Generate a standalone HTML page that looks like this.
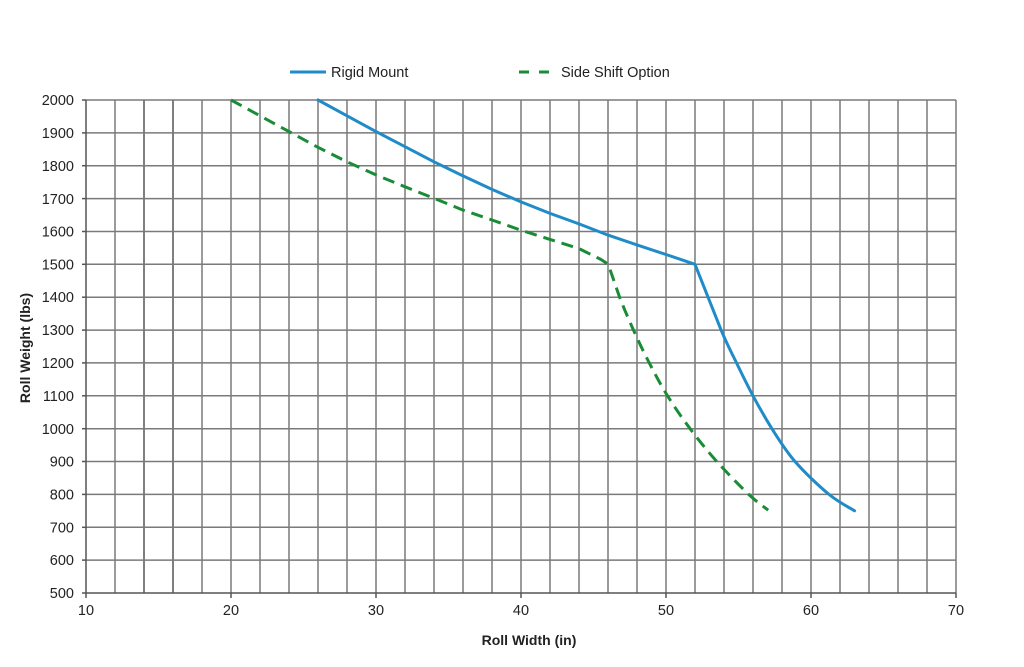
<!DOCTYPE html>
<html><head><meta charset="utf-8"><style>
html,body{margin:0;padding:0;background:#fff;}
svg{display:block;}
text{font-family:"Liberation Sans",Arial,sans-serif;fill:#222;}
</style></head><body>
<svg width="1024" height="667" viewBox="0 0 1024 667" xmlns="http://www.w3.org/2000/svg">
<rect width="1024" height="667" fill="#fff"/>
<g stroke="#7a7a7a" stroke-width="1.5">
<line x1="115" y1="100" x2="115" y2="593"/>
<line x1="144" y1="100" x2="144" y2="593" stroke="#555"/>
<line x1="173" y1="100" x2="173" y2="593" stroke="#555"/>
<line x1="202" y1="100" x2="202" y2="593"/>
<line x1="231" y1="100" x2="231" y2="593"/>
<line x1="260" y1="100" x2="260" y2="593"/>
<line x1="289" y1="100" x2="289" y2="593"/>
<line x1="318" y1="100" x2="318" y2="593"/>
<line x1="347" y1="100" x2="347" y2="593"/>
<line x1="376" y1="100" x2="376" y2="593"/>
<line x1="405" y1="100" x2="405" y2="593"/>
<line x1="434" y1="100" x2="434" y2="593"/>
<line x1="463" y1="100" x2="463" y2="593"/>
<line x1="492" y1="100" x2="492" y2="593"/>
<line x1="521" y1="100" x2="521" y2="593"/>
<line x1="550" y1="100" x2="550" y2="593"/>
<line x1="579" y1="100" x2="579" y2="593"/>
<line x1="608" y1="100" x2="608" y2="593"/>
<line x1="637" y1="100" x2="637" y2="593"/>
<line x1="666" y1="100" x2="666" y2="593"/>
<line x1="695" y1="100" x2="695" y2="593"/>
<line x1="724" y1="100" x2="724" y2="593"/>
<line x1="753" y1="100" x2="753" y2="593"/>
<line x1="782" y1="100" x2="782" y2="593"/>
<line x1="811" y1="100" x2="811" y2="593"/>
<line x1="840" y1="100" x2="840" y2="593"/>
<line x1="869" y1="100" x2="869" y2="593"/>
<line x1="898" y1="100" x2="898" y2="593"/>
<line x1="927" y1="100" x2="927" y2="593"/>
<line x1="956" y1="100" x2="956" y2="593"/>
<line x1="86" y1="100" x2="956" y2="100"/>
<line x1="86" y1="132.9" x2="956" y2="132.9"/>
<line x1="86" y1="165.7" x2="956" y2="165.7"/>
<line x1="86" y1="198.6" x2="956" y2="198.6"/>
<line x1="86" y1="231.5" x2="956" y2="231.5"/>
<line x1="86" y1="264.3" x2="956" y2="264.3"/>
<line x1="86" y1="297.2" x2="956" y2="297.2"/>
<line x1="86" y1="330.1" x2="956" y2="330.1"/>
<line x1="86" y1="362.9" x2="956" y2="362.9"/>
<line x1="86" y1="395.8" x2="956" y2="395.8"/>
<line x1="86" y1="428.7" x2="956" y2="428.7"/>
<line x1="86" y1="461.5" x2="956" y2="461.5"/>
<line x1="86" y1="494.4" x2="956" y2="494.4"/>
<line x1="86" y1="527.3" x2="956" y2="527.3"/>
<line x1="86" y1="560.1" x2="956" y2="560.1"/>
</g>
<g stroke="#555" stroke-width="1.5">
<line x1="86" y1="100" x2="86" y2="593"/>
<line x1="86" y1="593" x2="956" y2="593"/>
<line x1="82" y1="100" x2="86" y2="100"/>
<line x1="82" y1="132.9" x2="86" y2="132.9"/>
<line x1="82" y1="165.7" x2="86" y2="165.7"/>
<line x1="82" y1="198.6" x2="86" y2="198.6"/>
<line x1="82" y1="231.5" x2="86" y2="231.5"/>
<line x1="82" y1="264.3" x2="86" y2="264.3"/>
<line x1="82" y1="297.2" x2="86" y2="297.2"/>
<line x1="82" y1="330.1" x2="86" y2="330.1"/>
<line x1="82" y1="362.9" x2="86" y2="362.9"/>
<line x1="82" y1="395.8" x2="86" y2="395.8"/>
<line x1="82" y1="428.7" x2="86" y2="428.7"/>
<line x1="82" y1="461.5" x2="86" y2="461.5"/>
<line x1="82" y1="494.4" x2="86" y2="494.4"/>
<line x1="82" y1="527.3" x2="86" y2="527.3"/>
<line x1="82" y1="560.1" x2="86" y2="560.1"/>
<line x1="82" y1="593" x2="86" y2="593"/>
<line x1="86" y1="593" x2="86" y2="598"/>
<line x1="231" y1="593" x2="231" y2="598"/>
<line x1="376" y1="593" x2="376" y2="598"/>
<line x1="521" y1="593" x2="521" y2="598"/>
<line x1="666" y1="593" x2="666" y2="598"/>
<line x1="811" y1="593" x2="811" y2="598"/>
<line x1="956" y1="593" x2="956" y2="598"/>
</g>
<g font-size="14.5" text-anchor="end">
<text x="74" y="105">2000</text>
<text x="74" y="138">1900</text>
<text x="74" y="171">1800</text>
<text x="74" y="204">1700</text>
<text x="74" y="236.5">1600</text>
<text x="74" y="269.5">1500</text>
<text x="74" y="302">1400</text>
<text x="74" y="335">1300</text>
<text x="74" y="368">1200</text>
<text x="74" y="401">1100</text>
<text x="74" y="434">1000</text>
<text x="74" y="466.5">900</text>
<text x="74" y="499.5">800</text>
<text x="74" y="532.5">700</text>
<text x="74" y="565">600</text>
<text x="74" y="598">500</text>
</g>
<g font-size="14.5" text-anchor="middle">
<text x="86" y="615">10</text>
<text x="231" y="615">20</text>
<text x="376" y="615">30</text>
<text x="521" y="615">40</text>
<text x="666" y="615">50</text>
<text x="811" y="615">60</text>
<text x="956" y="615">70</text>
</g>
<text x="529" y="645" font-size="14" font-weight="bold" text-anchor="middle">Roll Width (in)</text>
<text x="0" y="0" font-size="14" font-weight="bold" text-anchor="middle" transform="translate(30,348) rotate(-90)">Roll Weight (lbs)</text>
<path fill="none" stroke="#1f8bc9" stroke-width="3" stroke-linejoin="round" stroke-linecap="round"
d="M318,100 L347,115.8 L376,131.6 L405,146.7 L434,161.8 L463,175.9 L492,189.4 L521,201.9 L550,213.4 L579,223.9 L608,235.1 L637,244.9 L666,254.5 L695,264.3 L721.1,330.1 C728,346.5 731.3,352.1 736.6,363 C741.9,374 747.1,384.85 753,395.8 C758.9,406.8 765.1,417.75 771.9,428.7 C778.9,439.65 785.5,450.55 795,461.5 C804.5,472.45 819.1,486.2 829,494.4 C838.9,502.6 850.3,508.1 854.5,510.8"/>
<path fill="none" stroke="#1a8b36" stroke-width="3" stroke-dasharray="12,7" stroke-linejoin="round"
d="M231,100 L289,131.6 L318,147.3 L347,161.8 L376,174.9 L405,186.8 L434,198.3 L463,210.1 L492,220 L521,230.2 L550,239.4 L579,248.6 L600.8,259.4 L604,261.5 Q608,263.5 609.5,268 L619.6,297.2 C623.85,308.2 628.55,319.1 633.5,330.1 C638.45,341.1 643.6,352.05 649.3,363 C654.97,373.95 660.7,384.85 667.5,395.8 C674.3,406.75 681.9,417.75 690.1,428.7 C698.3,439.65 707,450.55 716.8,461.5 C726.6,472.45 740.1,486.3 748.7,494.4 C757.3,502.5 765,507.6 768.2,510.2"/>
<line x1="290" y1="72" x2="326" y2="72" stroke="#1f8bc9" stroke-width="3"/>
<text x="331" y="77" font-size="14.5">Rigid Mount</text>
<line x1="519" y1="72" x2="555" y2="72" stroke="#1a8b36" stroke-width="3" stroke-dasharray="10,10"/>
<text x="561" y="77" font-size="14.5">Side Shift Option</text>
</svg>
</body></html>
